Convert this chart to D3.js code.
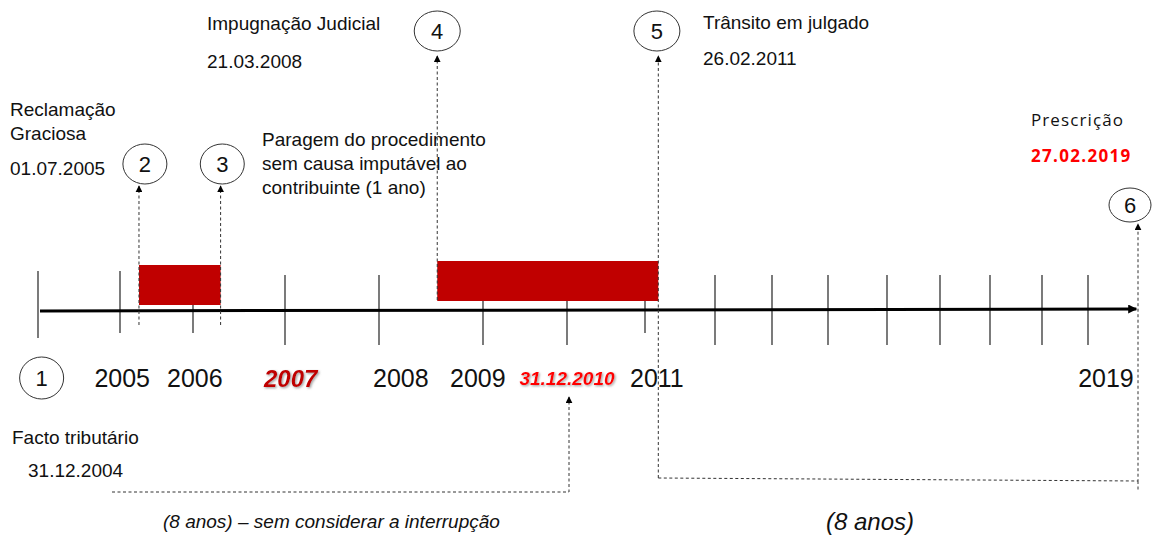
<!DOCTYPE html>
<html><head><meta charset="utf-8">
<script src="https://cdn.jsdelivr.net/npm/d3@7"></script>
<style>body{margin:0;background:#fff}svg{display:block}text{font-family:"Liberation Sans",Arial,sans-serif}</style>
</head><body><svg id="c" width="1152" height="536"></svg>
<script>
// ---- data ----
const tickIndex = d3.range(16);                       // timeline tick positions (index units)
const tickLabels = ["", "2005", "2006", "2007", "2008", "2009", "31.12.2010", "2011", "", "", "", "", "", "", "", "2019"];
const labelAt = [0, 1.03, 2.02, 3.06, 4.21, 4.95, 6, 7.17, 8, 9, 10, 11, 12, 13, 14, 15.39];
const highlightLabels = ["2007", "31.12.2010"];
const suspensionStart = [1.26, 4.56];                // red bars: start (index units)
const suspensionEnd = [2.3, 7.19];                   // red bars: end (index units)
const eventNumbers = ["1", "2", "3", "4", "5", "6"];
const eventAt = [0.02, 1.3, 2.34, 4.56, 7.17, 16.0];
const eventTitles = [["Facto tributário"], ["Reclamação", "Graciosa"], ["Paragem do procedimento", "sem causa imputável ao", "contribuinte (1 ano)"], ["Impugnação Judicial"], ["Trânsito em julgado"], ["Prescrição"]];
const eventDates = ["31.12.2004", "01.07.2005", "", "21.03.2008", "26.02.2011", "27.02.2019"];
const periodLabels = ["(8 anos) – sem considerar a interrupção", "(8 anos)"];

// ---- scale (non-uniform drawn timeline) ----
const x = d3.scaleLinear()
  .domain(tickIndex)
  .range([38, 120, 193, 285, 379, 483, 567, 645, 715, 772, 828, 887, 940, 990, 1042, 1088]);

const svg = d3.select("#c");
const axisY = 310;
const defs = svg.append("defs");
function marker(id, w, h) {
  defs.append("marker").attr("id", id).attr("viewBox", "0 0 10 10").attr("refX", 9).attr("refY", 5)
    .attr("markerWidth", w).attr("markerHeight", h).attr("markerUnits", "userSpaceOnUse").attr("orient", "auto")
    .append("path").attr("d", "M0,0L10,5L0,10Z").attr("fill", "#000");
}
marker("arr", 7, 7);
marker("arrBig", 12, 9);
const filt = defs.append("filter").attr("id", "sh").attr("x", "-20%").attr("y", "-20%").attr("width", "140%").attr("height", "140%");
filt.append("feDropShadow").attr("dx", 1.2).attr("dy", 1.2).attr("stdDeviation", 0.8).attr("flood-color", "#888").attr("flood-opacity", 0.8);

// red bars
const barTop = [265, 261];
svg.selectAll("rect.bar").data(suspensionStart).join("rect").attr("class", "bar")
  .attr("x", d => x(d)).attr("width", (d, i) => x(suspensionEnd[i]) - x(d))
  .attr("y", (d, i) => barTop[i]).attr("height", 40).attr("fill", "#c00000");

// ticks
function covered(i) {
  for (let k = 0; k < suspensionStart.length; k++) if (i > suspensionStart[k] && i < suspensionEnd[k]) return barTop[k] + 40;
  return null;
}
svg.selectAll("line.tick").data(tickIndex).join("line").attr("class", "tick")
  .attr("x1", d => x(d)).attr("x2", d => x(d))
  .attr("y1", d => covered(d) ?? (d === 0 || d === 1 ? 271 : 275))
  .attr("y2", d => (d === 0 ? 338 : d === 1 || d === 2 || d === 7 ? 333 : 345))
  .attr("stroke", "#222").attr("stroke-width", 1.2);

// main axis
svg.append("line").attr("x1", x(0) + 2).attr("x2", x(16.05)).attr("y1", axisY + 1).attr("y2", axisY - 1)
  .attr("stroke", "#000").attr("stroke-width", 3).attr("marker-end", "url(#arrBig)");

// tick labels
svg.selectAll("text.yl").data(tickLabels.map((t, i) => ({t, i})).filter(d => d.t)).join("text").attr("class", "yl")
  .attr("x", d => x(labelAt[d.i])).attr("y", d => d.t === "31.12.2010" ? 385 : 387).attr("text-anchor", "middle")
  .attr("font-size", d => d.t === "31.12.2010" ? 19 : d.t === "2007" ? 24 : 25)
  .attr("font-weight", d => highlightLabels.includes(d.t) ? "bold" : "normal")
  .attr("font-style", d => highlightLabels.includes(d.t) ? "italic" : "normal")
  .attr("fill", d => d.t === "2007" ? "#c00000" : d.t === "31.12.2010" ? "#ff0000" : "#111")
  .attr("filter", d => highlightLabels.includes(d.t) ? "url(#sh)" : null)
  .text(d => d.t);

// dashed connectors
const dash = "3,2.5";
function dline(pts, arrow) {
  svg.append("path").attr("d", d3.line()(pts)).attr("fill", "none").attr("stroke", "#333")
    .attr("stroke-width", 1).attr("stroke-dasharray", dash).attr("marker-end", arrow ? "url(#arr)" : null);
}
dline([[x(suspensionStart[0]), 325], [x(suspensionStart[0]), 186]], true);
dline([[x(suspensionEnd[0]), 325], [x(suspensionEnd[0]), 186]], true);
dline([[x(suspensionStart[1]), 300], [x(suspensionStart[1]), 56]], true);
dline([[x(suspensionEnd[1]), 478], [x(suspensionEnd[1]), 56]], true);
dline([[x(suspensionEnd[1]), 478], [x(eventAt[5]) + 4, 481], [x(eventAt[5]) + 4, 224]], true);
dline([[x(eventAt[5]) + 4, 481], [x(eventAt[5]) + 4, 492]], false);
dline([[x(1) - 8, 492], [x(6) + 2, 492], [x(6) + 2, 397]], true);

// event number ellipses
const evPos = [[x(eventAt[0]) + 2, 378], [x(eventAt[1]) + 3, 164], [x(eventAt[2]) - 2, 164], [x(eventAt[3]), 31], [x(eventAt[4]), 31], [x(eventAt[5]) - 4, 205]];
const evR = [[22, 21], [22, 20], [22, 20], [23, 20], [23, 20], [21, 17]];
const ev = svg.selectAll("g.ev").data(eventNumbers).join("g").attr("class", "ev")
  .attr("transform", (d, i) => `translate(${evPos[i][0]},${evPos[i][1]})`);
ev.append("ellipse").attr("rx", (d, i) => evR[i][0]).attr("ry", (d, i) => evR[i][1])
  .attr("fill", "#fff").attr("stroke", "#333").attr("stroke-width", 1);
ev.append("text").attr("text-anchor", "middle").attr("y", 8).attr("font-size", 22).attr("fill", "#111").text(d => d);

// event texts
const titlePos = [[12, 444], [10, 116], [262, 146], [207, 30], [703, 29], [1031, 126]];
const datePos = [[28, 477], [10, 175], null, [207, 68], [703, 65], [1031, 162]];
eventTitles.forEach((lines, i) => {
  const isP = i === 5;
  lines.forEach((l, j) => {
    svg.append("text").attr("x", titlePos[i][0]).attr("y", titlePos[i][1] + j * 24)
      .attr("font-size", isP ? 17 : 19).attr("fill", "#111")
      .style("font-family", isP ? "'Open Sans',sans-serif" : null)
      .style("letter-spacing", isP ? "1.1px" : null).text(l);
  });
  if (eventDates[i]) {
    svg.append("text").attr("x", datePos[i][0]).attr("y", datePos[i][1])
      .attr("font-size", isP ? 17 : 19).attr("fill", isP ? "#ff0000" : "#111")
      .attr("font-weight", isP ? "bold" : "normal")
      .style("letter-spacing", isP ? "1.3px" : null)
      .style("font-family", isP ? "'Open Sans',sans-serif" : null).text(eventDates[i]);
  }
});

// period labels
svg.append("text").attr("x", 163).attr("y", 528).attr("font-size", 19).attr("font-style", "italic").attr("fill", "#111").text(periodLabels[0]);
svg.append("text").attr("x", 826).attr("y", 530).attr("font-size", 24).attr("font-style", "italic").attr("fill", "#111").text(periodLabels[1]);
</script></body></html>
